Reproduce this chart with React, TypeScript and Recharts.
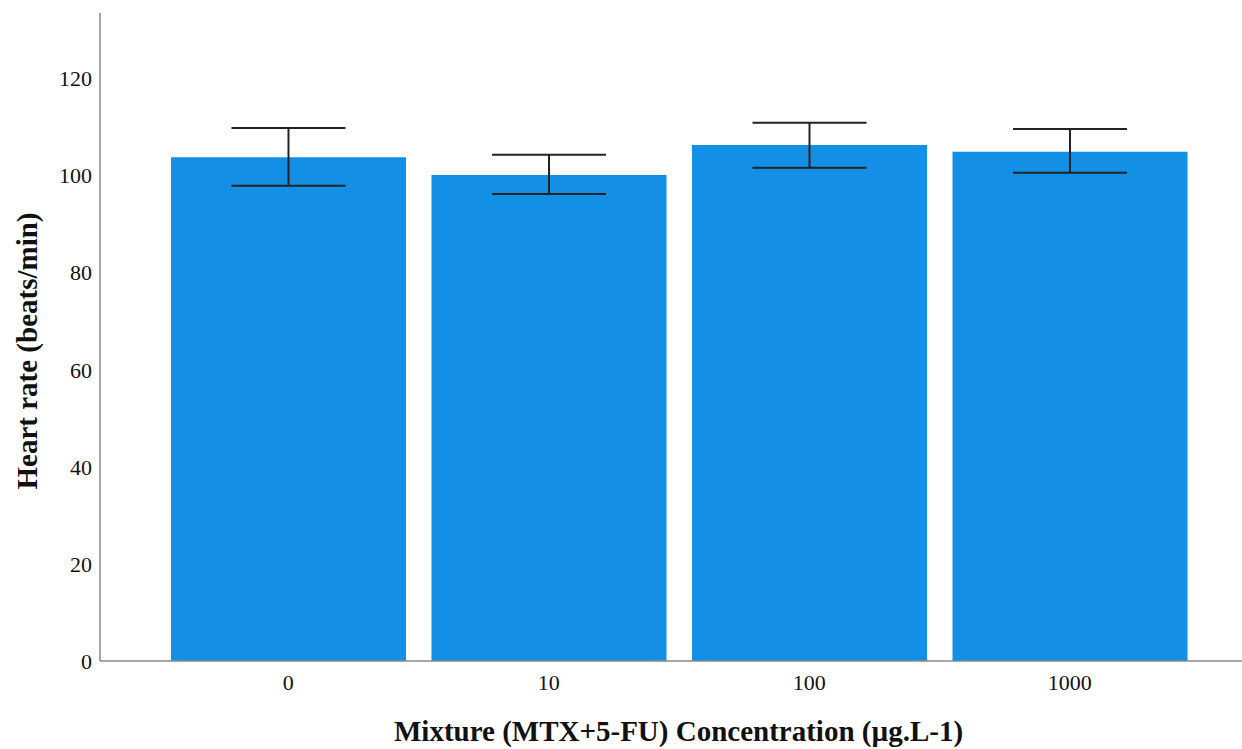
import React from "react";
import { BarChart, Bar, XAxis, YAxis, ErrorBar, Label } from "recharts";

const categories = ["0", "10", "100", "1000"];
const heartRate = [103.8, 100.1, 106.3, 104.9];
const errLower = [97.9, 96.2, 101.6, 100.6];
const errUpper = [109.8, 104.3, 110.9, 109.6];
const yTicks = [0, 20, 40, 60, 80, 100, 120];

const data = categories.map((c, i) => ({
  conc: c,
  rate: heartRate[i],
  err: [heartRate[i] - errLower[i], errUpper[i] - heartRate[i]],
}));

const FONT = "'Liberation Serif', 'Times New Roman', serif";

const YLabel = () => {
  const cx = 27;
  const cy = 351;
  return (
    <text
      x={cx}
      y={cy}
      transform={`rotate(-90, ${cx}, ${cy})`}
      textAnchor="middle"
      dominantBaseline="central"
      style={{ fontFamily: FONT, fontWeight: "bold", fontSize: 29, fill: "#111" }}
    >
      Heart rate (beats/min)
    </text>
  );
};

const XLabel = () => {
  const cx = 678.5;
  const cy = 731;
  return (
    <text
      x={cx}
      y={cy}
      textAnchor="middle"
      dominantBaseline="central"
      style={{ fontFamily: FONT, fontWeight: "bold", fontSize: 29, fill: "#111" }}
    >
      Mixture (MTX+5-FU) Concentration (µg.L-1)
    </text>
  );
};

export default function App() {
  return (
    <div style={{ position: "absolute", left: 0, top: 0, width: 1242, height: 749, background: "#fff" }}>
      <BarChart
        width={1242}
        height={749}
        data={data}
        margin={{ top: 13, right: 0, bottom: 48, left: 0 }}
        barCategoryGap={13}
      >
        <XAxis
          dataKey="conc"
          padding={{ left: 58, right: 42 }}
          tickLine={false}
          axisLine={{ stroke: "#888", strokeWidth: 1.5 }}
          tick={{ fontFamily: FONT, fontSize: 22, fill: "#111" }}
          tickMargin={7}
          height={40}
        >
          <Label content={<XLabel />} />
        </XAxis>
        <YAxis
          width={100}
          domain={[0, 133.5]}
          ticks={yTicks}
          tickLine={false}
          axisLine={{ stroke: "#888", strokeWidth: 1.5 }}
          tick={{ fontFamily: FONT, fontSize: 22, fill: "#111" }}
          allowDataOverflow
        >
          <Label content={<YLabel />} />
        </YAxis>
        <Bar dataKey="rate" fill="#1390e6" isAnimationActive={false}>
          <ErrorBar dataKey="err" width={57} stroke="#222" strokeWidth={2} direction="y" />
        </Bar>
      </BarChart>
    </div>
  );
}
